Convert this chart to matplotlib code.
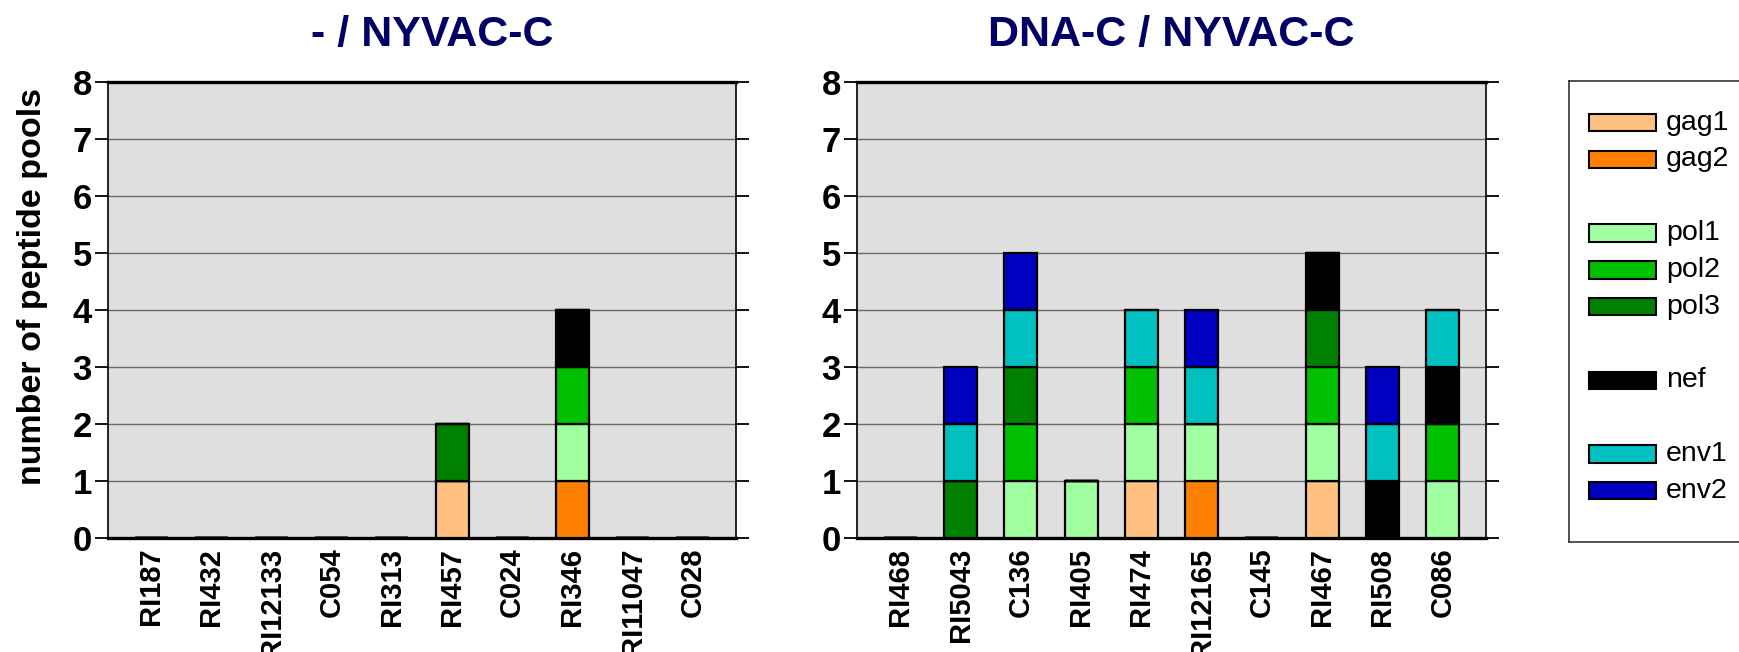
import numpy as np
import matplotlib.pyplot as plt
from matplotlib.patches import Rectangle

plt.rcParams['font.family'] = ['Liberation Sans', 'DejaVu Sans']

# peptide pools, stacked bottom to top
pools = ['gag1', 'gag2', 'pol1', 'pol2', 'pol3', 'nef', 'env1', 'env2']
pool_colors = ['#ffc080', '#ff8000', '#a0ffa0', '#00c000', '#008000',
               '#000000', '#00c0c0', '#0000c0']

left_title = '- / NYVAC-C'
left_ids = ['RI187', 'RI432', 'RI12133', 'C054', 'RI313', 'RI457', 'C024',
            'RI346', 'RI11047', 'C028']
# one row per pool, one column per animal
left_counts = [
    [0, 0, 0, 0, 0, 1, 0, 0, 0, 0],  # gag1
    [0, 0, 0, 0, 0, 0, 0, 1, 0, 0],  # gag2
    [0, 0, 0, 0, 0, 0, 0, 1, 0, 0],  # pol1
    [0, 0, 0, 0, 0, 0, 0, 1, 0, 0],  # pol2
    [0, 0, 0, 0, 0, 1, 0, 0, 0, 0],  # pol3
    [0, 0, 0, 0, 0, 0, 0, 1, 0, 0],  # nef
    [0, 0, 0, 0, 0, 0, 0, 0, 0, 0],  # env1
    [0, 0, 0, 0, 0, 0, 0, 0, 0, 0],  # env2
]

right_title = 'DNA-C / NYVAC-C'
right_ids = ['RI468', 'RI5043', 'C136', 'RI405', 'RI474', 'RI12165', 'C145',
             'RI467', 'RI508', 'C086']
right_counts = [
    [0, 0, 0, 0, 1, 0, 0, 1, 0, 0],  # gag1
    [0, 0, 0, 0, 0, 1, 0, 0, 0, 0],  # gag2
    [0, 0, 1, 1, 1, 1, 0, 1, 0, 1],  # pol1
    [0, 0, 1, 0, 1, 0, 0, 1, 0, 1],  # pol2
    [0, 1, 1, 0, 0, 0, 0, 1, 0, 0],  # pol3
    [0, 0, 0, 0, 0, 0, 0, 1, 1, 1],  # nef
    [0, 1, 1, 0, 1, 1, 0, 0, 1, 1],  # env1
    [0, 1, 1, 0, 0, 1, 0, 0, 1, 0],  # env2
]

W, H = 1740, 652
fig = plt.figure(figsize=(W / 100, H / 100), dpi=100)


def draw_panel(ax, ids, counts, title, title_x=0.5):
    x = np.arange(len(ids))
    bottom = np.zeros(len(ids))
    for color, row in zip(pool_colors, counts):
        row = np.asarray(row, dtype=float)
        ax.bar(x, row, 0.55, bottom=bottom, color=color,
               edgecolor='black', linewidth=1.6, zorder=3)
        bottom += row

    ax.set_facecolor('#dfdfdf')
    ax.set_xlim(-0.72, len(ids) - 1 + 0.72)
    ax.set_ylim(0, 8)
    ax.set_yticks(range(9), labels=[str(v) for v in range(9)],
                  fontsize=25, fontweight='bold')
    ax.set_xticks(x, labels=ids, rotation=90, fontsize=21, fontweight='bold')
    ax.tick_params(axis='x', length=0, pad=7)
    ax.tick_params(axis='y', left=True, right=True, direction='out',
                   length=9.5, width=1.3, pad=2)
    ax.yaxis.grid(True, color='#6a6a6a', linewidth=1)
    ax.set_axisbelow(True)
    for side in ('left', 'right'):
        ax.spines[side].set_linewidth(1.2)
    for side in ('top', 'bottom'):
        ax.spines[side].set_linewidth(2.4)
    ax.set_title(title, fontsize=31, fontweight='bold', color='#000066',
                 pad=26, x=title_x)


ax1 = fig.add_axes([108 / W, 1 - 538 / H, 628 / W, 456 / H])
ax2 = fig.add_axes([857 / W, 1 - 538 / H, 629 / W, 456 / H])
draw_panel(ax1, left_ids, left_counts, left_title, title_x=0.516)
draw_panel(ax2, right_ids, right_counts, right_title)

ax1.set_ylabel('number of peptide pools', fontsize=24.5, fontweight='bold')
ax1.yaxis.set_label_coords(-0.096, 0.552)

# legend box with gaps between the gene groups
lax = fig.add_axes([1569 / W, 1 - 542 / H, 0.1, 461 / H])
lax.set_xlim(1569, 1569 + 0.1 * W)
lax.set_ylim(542, 81)
lax.set_xticks([])
lax.set_yticks([])
for sp in lax.spines.values():
    sp.set_color('#333333')
    sp.set_linewidth(1.2)

legend_rows = [0, 1, 3, 4, 5, 7, 9, 10]
for name, color, r in zip(pools, pool_colors, legend_rows):
    yc = 122.7 + r * 36.8
    lax.add_patch(Rectangle((1589, yc - 8.7), 67, 17.4, facecolor=color,
                            edgecolor='black', linewidth=1.5))
    lax.text(1666, yc, name, fontsize=20.5, va='center', ha='left')

fig.savefig('out.png', dpi=100)
